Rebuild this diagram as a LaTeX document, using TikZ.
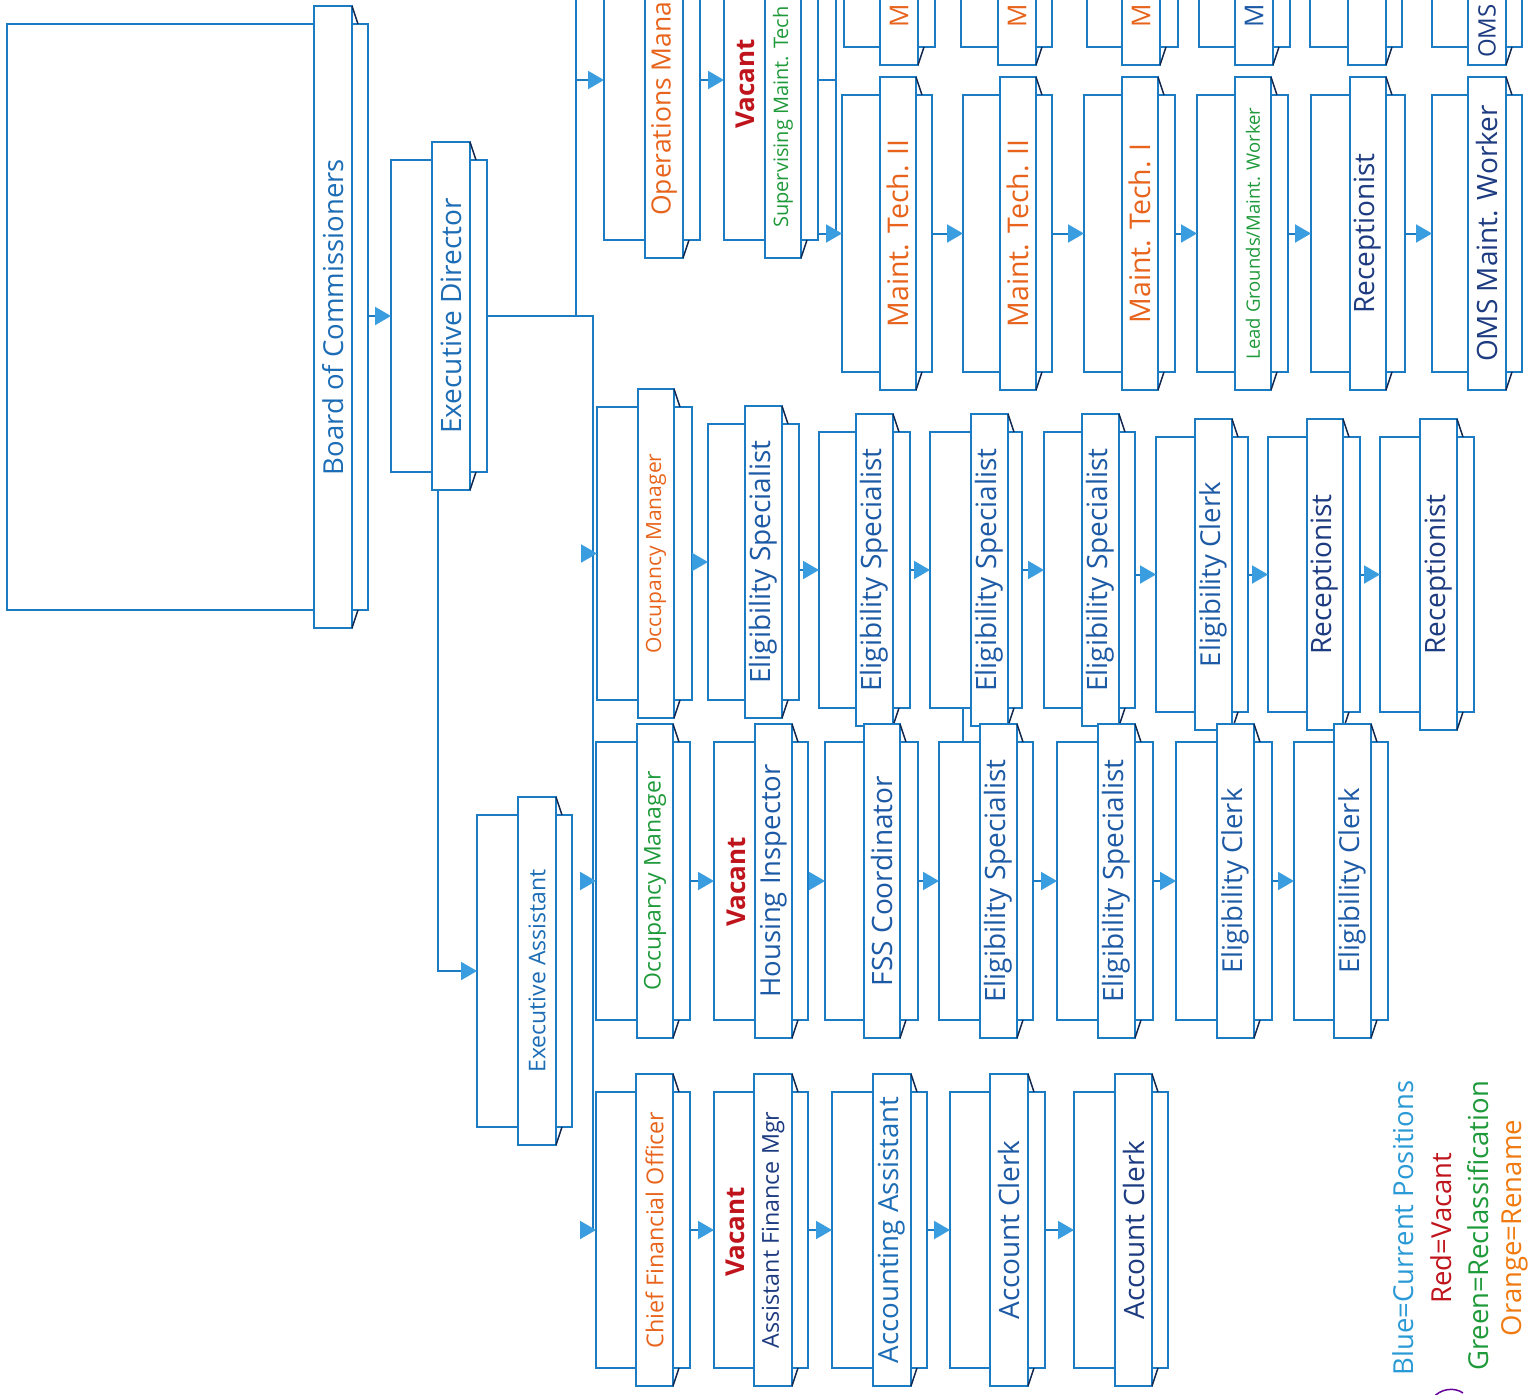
\documentclass[tikz,border=0pt]{standalone}
\usepackage{fontspec}
\setmainfont{Open Sans}
\usetikzlibrary{fit,arrows.meta}
\definecolor{boxblue}{HTML}{1B7CC4}
\definecolor{arrblue}{HTML}{3A9DE0}
\definecolor{diagc}{HTML}{14284F}
\definecolor{tblue}{HTML}{1C6DB5}
\definecolor{tmid}{HTML}{1D5AA5}
\definecolor{tnavy}{HTML}{1D3B80}
\definecolor{torange}{HTML}{E8641C}
\definecolor{tgreen}{HTML}{1F9A3A}
\definecolor{tred}{HTML}{C0141C}
\definecolor{legblue}{HTML}{2A9AD6}
\definecolor{legorange}{HTML}{F07A10}
\newcommand{\fsz}[1]{\fontsize{#1}{#1}\selectfont}
\tikzset{
 backr/.style={draw=boxblue, line width=2pt, fill=white, inner sep=0pt, outer sep=0pt},
 stripr/.style={draw=boxblue, line width=2pt, fill=white, inner sep=0pt, outer sep=0pt},
 diag/.style={draw=diagc, line width=1.5pt},
 conn/.style={draw=boxblue, line width=2pt},
 arr/.style={draw=boxblue, line width=2pt, -{Triangle[length=16pt,width=18pt,color=arrblue]}},
 lbl/.style={rotate=90, inner sep=0pt, font=\fsz{27.5}},
}
% name, x0, ytop, x1, ybottom, strip left, strip right, label options, label text
\newcommand{\obox}[9]{%
 \node[backr, fit={(#2,#3) (#4,#5)}] (#1) {};
 \node[stripr, fit={(#6,#3-18) (#7,#5+18)}] (#1s) {};
 \draw[diag] (#1s.north east) -- ++(6,18);
 \draw[diag] (#1s.south east) -- ++(6,-18);
 \node[lbl,#8] (#1t) at (#1s.center) {#9};
}
\begin{document}
\begin{tikzpicture}[x=1pt,y=-1pt]
\useasboundingbox (0,0) rectangle (1535,1395);
\clip (0,0) rectangle (1535,1395);
\fill[white] (0,0) rectangle (1535,1395);

% top level
\obox{boc}{7}{24}{368}{610}{314}{352}{tblue,font=\fsz{27.5}}{Board of Commissioners}
\obox{ed}{391}{160}{487}{472}{432}{470}{tblue,font=\fsz{28}}{Executive Director}
\obox{ea}{477}{815}{572}{1127}{518}{556}{tblue,font=\fsz{23}}{Executive Assistant}

% operations branch (cut off at the top)
\obox{ops}{604}{-80}{700}{240}{645}{683}{}{}
\obox{sup}{724}{-80}{818}{240}{765}{801}{}{}
\node[lbl, anchor=west, torange, font=\fsz{26.5}] (opsname) at (664,216) {Operations Mana};
\node[lbl, tred, font=\bfseries\fsz{26}] (supvac) at (745,84) {Vacant};
\node[lbl, anchor=west, tgreen, font=\fsz{20}] (supname) at (783,228) {Supervising Maint. Tech};

% upper cut row
\obox{ta}{844}{-250}{935}{47}{880}{918}{}{}
\obox{tb}{961}{-250}{1052}{47}{998}{1036}{}{}
\obox{tc}{1087}{-250}{1178}{47}{1122}{1160}{}{}
\obox{td}{1199}{-250}{1290}{47}{1235}{1273}{}{}
\obox{te}{1310}{-250}{1402}{47}{1348}{1386}{}{}
\obox{tf}{1432}{-250}{1522}{47}{1468}{1506}{}{}
\node[lbl, anchor=west, torange, font=\fsz{26}] (tam) at (899,28) {M};
\node[lbl, anchor=west, torange, font=\fsz{26}] (tbm) at (1017,28) {M};
\node[lbl, anchor=west, torange, font=\fsz{26}] (tcm) at (1141,28) {M};
\node[lbl, anchor=west, tmid, font=\fsz{26}] (tdm) at (1254,28) {M};
\node[lbl, anchor=west, tnavy, font=\fsz{24}] (tfm) at (1487,58) {OMS};

% maintenance row
\obox{ma}{842}{95}{932}{372}{880}{916}{torange,font=\fsz{28.5}}{Maint. Tech. II}
\obox{mb}{963}{95}{1052}{372}{1000}{1036}{torange,font=\fsz{28.5}}{Maint. Tech. II}
\obox{mc}{1084}{95}{1175}{372}{1122}{1158}{torange,font=\fsz{28.5}}{Maint. Tech. I}
\obox{md}{1197}{95}{1288}{372}{1235}{1271}{tgreen,font=\fsz{18.5}}{Lead Grounds/Maint. Worker}
\obox{me}{1311}{95}{1405}{372}{1350}{1386}{tnavy,font=\fsz{28}}{Receptionist}
\obox{mf}{1432}{95}{1522}{372}{1468}{1506}{tnavy,font=\fsz{28}}{OMS Maint. Worker}

% occupancy row (orange manager)
\obox{oa}{597}{407}{692}{700}{638}{674}{torange,font=\fsz{21}}{Occupancy Manager}
\obox{ob}{708}{424}{799}{700}{745}{782}{tmid,font=\fsz{28}}{Eligibility Specialist}
\obox{oc}{819}{432}{910}{708}{856}{893}{tmid,font=\fsz{28}}{Eligibility Specialist}
\obox{od}{930}{432}{1022}{708}{971}{1008}{tmid,font=\fsz{28}}{Eligibility Specialist}
\obox{oe}{1044}{432}{1135}{708}{1082}{1119}{tmid,font=\fsz{28}}{Eligibility Specialist}
\obox{of}{1156}{437}{1248}{712}{1195}{1232}{tmid}{Eligibility Clerk}
\obox{og}{1268}{437}{1360}{712}{1307}{1343}{tnavy,font=\fsz{28}}{Receptionist}
\obox{oh}{1380}{437}{1474}{712}{1420}{1457}{tnavy,font=\fsz{28}}{Receptionist}

% occupancy row (green manager)
\obox{ga}{596}{742}{690}{1020}{637}{673}{tgreen,font=\fsz{23}}{Occupancy Manager}
\obox{gb}{714}{742}{808}{1020}{755}{792}{tmid,font=\fsz{27.5}}{Housing Inspector}
\node[lbl, tred, font=\bfseries\fsz{26}] (gbvac) at (736,882) {Vacant};
\obox{gc}{825}{742}{918}{1020}{864}{900}{tmid,font=\fsz{28}}{FSS Coordinator}
\obox{gd}{939}{742}{1033}{1020}{980}{1017}{tmid,font=\fsz{28}}{Eligibility Specialist}
\obox{ge}{1057}{742}{1153}{1020}{1098}{1135}{tmid,font=\fsz{28}}{Eligibility Specialist}
\obox{gf}{1176}{742}{1272}{1020}{1217}{1254}{tmid}{Eligibility Clerk}
\obox{gg}{1294}{742}{1388}{1020}{1334}{1371}{tmid}{Eligibility Clerk}

% finance row
\obox{ca}{596}{1092}{690}{1368}{636}{673}{torange,font=\fsz{23.3}}{Chief Financial Officer}
\obox{cb}{714}{1092}{808}{1368}{754}{792}{tnavy,font=\fsz{23.3}}{Assistant Finance Mgr}
\node[lbl, tred, font=\bfseries\fsz{26}] (cbvac) at (735,1232) {Vacant};
\obox{cc}{832}{1092}{927}{1368}{873}{911}{tblue,font=\fsz{27.7}}{Accounting Assistant}
\obox{cd}{950}{1092}{1045}{1368}{990}{1028}{tmid,font=\fsz{28}}{Account Clerk}
\obox{ce}{1074}{1092}{1168}{1368}{1115}{1152}{tnavy,font=\fsz{28}}{Account Clerk}

% legend
\node[lbl, legblue, font=\fsz{27.5}] (lega) at (1403,1228) {Blue=Current Positions};
\node[lbl, tred, font=\fsz{27.5}] (legb) at (1441,1228) {Red=Vacant};
\node[lbl, tgreen, font=\fsz{27.5}] (legc) at (1478,1226) {Green=Reclassification};
\node[lbl, legorange, font=\fsz{27.5}] (legd) at (1515,1228) {Orange=Rename};

% connectors
\coordinate (jr) at (593,316);
\coordinate (jo) at (576,316);
\coordinate (jtop) at (576,-10);
\draw[arr] (boc.east |- ed.west) -- (ed.west);
\draw[conn] (ed.east) -- (jr) -- (jr |- ca.west);
\draw[conn] (jo) -- (jtop);
\draw[arr] (jo |- ops.west) -- (ops.west);
\draw[arr] (jr |- oa.west) -- (oa.west);
\draw[arr] (jr |- ga.west) -- (ga.west);
\draw[arr] (jr |- ca.west) -- (ca.west);
\coordinate (edout) at ([xshift=6pt]eds.south west);
\draw[arr] (edout) |- (ea.west);
\draw[arr] (ops.east |- sup.west) -- (sup.west);
\coordinate (sj) at (836,80);
\coordinate (sjtop) at (836,-10);
\draw[conn] (sup.east) -- (sj) -- (sjtop);
\draw[conn] (sj) -- (sj |- ma.west);
\draw[arr] (sup.east |- ma.west) -- (ma.west);
\foreach \a/\b in {ma/mb,mb/mc,mc/md,md/me,me/mf,oa/ob,ob/oc,oc/od,od/oe,oe/of,of/og,og/oh,ga/gb,gb/gc,gc/gd,gd/ge,ge/gf,gf/gg,ca/cb,cb/cc,cc/cd,cd/ce}
  \draw[arr] (\a.east |- \b.west) -- (\b.west);
\coordinate (odge) at (963,708);
\draw[conn] (odge) -- (odge |- gd.north);

% pen mark
\draw[draw=violet!80!blue, line width=1.5pt] (1432,1399) .. controls (1440,1388) and (1455,1387) .. (1463,1393);
\end{tikzpicture}
\end{document}
